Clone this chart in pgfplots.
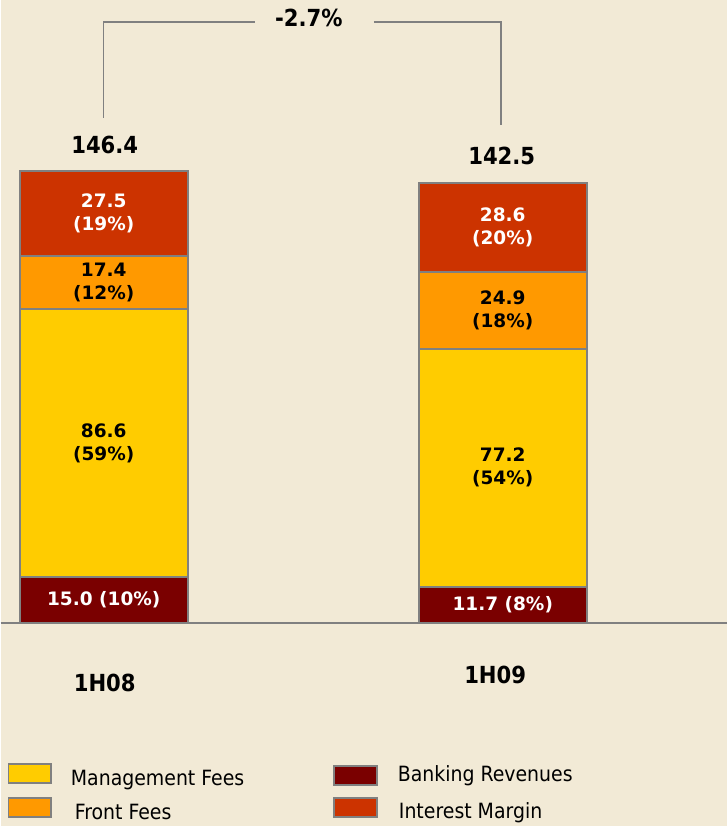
\documentclass[border=0pt]{standalone}
\usepackage{pgfplots}
\pgfplotsset{compat=1.18}
\usepackage{fontspec}
\setmainfont{DejaVu Sans Condensed}
\newfontfamily\verd{DejaVu Sans}
\definecolor{bg}{RGB}{242,234,214}
\definecolor{cMgmt}{RGB}{255,204,0}
\definecolor{cFront}{RGB}{255,153,0}
\definecolor{cBank}{RGB}{122,0,0}
\definecolor{cInt}{RGB}{204,51,0}
\definecolor{cBorder}{RGB}{128,128,128}
\begin{document}
\begin{tikzpicture}
\fill[bg] (0,0) rectangle (726pt,826pt);
\begin{axis}[
  at={(0pt,0pt)}, anchor=south west,
  scale only axis, width=726pt, height=826pt,
  xmin=-0.2581, xmax=1.5614, ymin=-65.75, ymax=201.79,
  hide axis, clip=false,
  ybar stacked, bar width=168pt,
  every axis plot/.append style={draw=cBorder, line width=2pt},
]
\draw[cBorder, line width=1.5pt] (axis cs:-0.2581,0) -- (axis cs:1.5614,0);
% Banking Revenues
\addplot[fill=cBank] coordinates {(0,15.0) (1,11.7)};
% Management Fees
\addplot[fill=cMgmt] coordinates {(0,86.6) (1,77.2)};
% Front Fees
\addplot[fill=cFront] coordinates {(0,17.4) (1,24.9)};
% Interest Margin
\addplot[fill=cInt] coordinates {(0,27.5) (1,28.6)};

% label anchors (segment centres)
\coordinate (a1) at (axis cs:0,7.5);
\coordinate (a2) at (axis cs:0,58.3);
\coordinate (a3) at (axis cs:0,110.3);
\coordinate (a4) at (axis cs:0,132.75);
\coordinate (b1) at (axis cs:1,5.85);
\coordinate (b2) at (axis cs:1,50.3);
\coordinate (b3) at (axis cs:1,101.35);
\coordinate (b4) at (axis cs:1,128.1);

% totals
\tikzset{big/.style={font=\bfseries\fontsize{23.5}{27}\selectfont, inner sep=0pt}}
\node[big] at (axis cs:0.0025,154.8) {146.4};
\node[big] at (axis cs:0.9975,151.2) {142.5};
\node[big] at (axis cs:0.514,195.9) {-2.7\%};
\draw[cBorder, line width=1.5pt] (axis cs:0,163.6) -- (axis cs:0,194.7) -- (axis cs:0.378,194.7);
\draw[cBorder, line width=1.5pt] (axis cs:0.677,194.7) -- (axis cs:0.995,194.7) -- (axis cs:0.995,161.3);

% categories
\node[big] at (axis cs:0.0025,-19.43) {1H08};
\node[big] at (axis cs:0.981,-16.84) {1H09};
\end{axis}

% segment labels
\tikzset{seg/.style={font=\verd\bfseries\fontsize{18.5}{23}\selectfont, align=center, inner sep=0pt}}
\node[seg, text=white] at (a1) {15.0 (10\%)};
\node[seg] at (a2) {86.6\\(59\%)};
\node[seg] at (a3) {17.4\\(12\%)};
\node[seg, text=white] at (a4) {27.5\\(19\%)};
\node[seg, text=white] at (b1) {11.7 (8\%)};
\node[seg] at (b2) {77.2\\(54\%)};
\node[seg] at (b3) {24.9\\(18\%)};
\node[seg, text=white] at (b4) {28.6\\(20\%)};

% legend
\tikzset{leg/.style={font=\fontsize{21}{24}\selectfont, anchor=west, inner sep=0pt}}
\filldraw[fill=cMgmt, draw=cBorder, line width=1.5pt] (8pt,43pt) rectangle (50pt,62pt);
\filldraw[fill=cFront, draw=cBorder, line width=1.5pt] (8pt,9pt) rectangle (50pt,28pt);
\filldraw[fill=cBank, draw=cBorder, line width=1.5pt] (333pt,41pt) rectangle (376pt,60pt);
\filldraw[fill=cInt, draw=cBorder, line width=1.5pt] (333pt,9pt) rectangle (376pt,28pt);
\node[leg] at (70pt,46pt) {Management Fees};
\node[leg] at (74pt,14pt) {Front Fees};
\node[leg] at (397pt,50pt) {Banking Revenues};
\node[leg] at (398pt,13pt) {Interest Margin};
\end{tikzpicture}
\end{document}
